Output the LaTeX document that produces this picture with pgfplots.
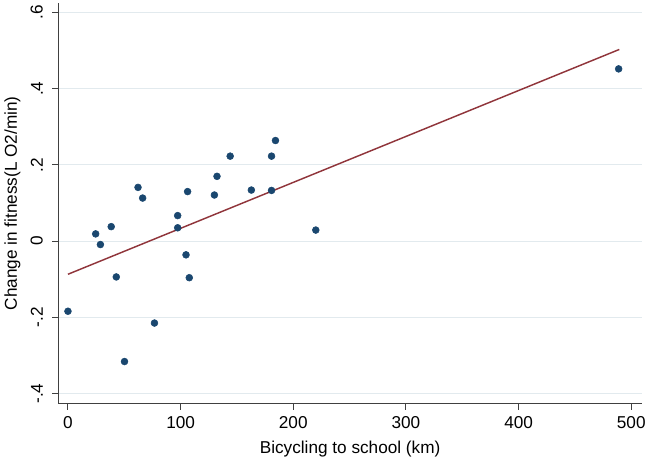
\documentclass[border=0pt]{standalone}
\usepackage{fontspec}
\setmainfont{Liberation Sans}
\usepackage{pgfplots}
\pgfplotsset{compat=1.18}
\definecolor{stnavy}{RGB}{26,71,111}
\definecolor{stmaroon}{RGB}{144,53,59}
\definecolor{gridc}{RGB}{226,234,238}
\begin{document}
\begin{tikzpicture}
\begin{axis}[
  scale only axis, width=441.75pt, height=303pt,
  xmin=-8.8, xmax=509.7, ymin=-0.4265, ymax=0.625,
  axis lines*=left,
  axis line style={draw=black!75, line width=0.8pt, -},
  xtick={0,100,...,500},
  ytick={-0.4,-0.2,0,0.2,0.4,0.6},
  yticklabels={-.4,-.2,0,.2,.4,.6},
  tick align=outside, major tick length=4.5pt,
  tick style={black!75, line width=0.8pt},
  ymajorgrids, grid style={gridc, line width=0.8pt},
  /pgf/number format/assume math mode=true,
  ticklabel style={font=\fontsize{13}{15}\selectfont},
  yticklabel style={rotate=90, anchor=south},
  yticklabel shift=3.5pt,
  xticklabel shift=1.5pt,
  xlabel={Bicycling to school (km)},
  ylabel={Change in fitness(L O2/min)},
  label style={font=\fontsize{13}{15}\selectfont},
  xlabel style={at={(axis description cs:0.5,-0.1139)}, anchor=center},
  ylabel style={at={(axis description cs:-0.0781,0.5)}, anchor=center},
]
\addplot[only marks, mark=*, mark size=2.6pt, draw=stnavy, fill=stnavy] coordinates {
(0,-0.184) (24.6,0.019) (28.8,-0.009) (38.4,0.038) (42.9,-0.094)
(50.2,-0.316) (62.2,0.141) (66.3,0.113) (76.8,-0.215) (97.4,0.067)
(97.4,0.035) (104.8,-0.036) (106.2,0.130) (107.7,-0.096) (130,0.121)
(132.3,0.170) (144,0.223) (162.8,0.134) (180.7,0.223) (180.7,0.133)
(184.2,0.264) (220,0.029) (488.8,0.452)
};
\addplot[stmaroon, line width=1.1pt] coordinates {(0,-0.087) (489.4,0.503)};
\coordinate (ll) at (rel axis cs:0,0);
\coordinate (ur) at (rel axis cs:1,1);
\end{axis}
\path (ll) ++(-42pt,-42pt) rectangle ([shift={(3.75pt,2.25pt)}]ur);
\end{tikzpicture}
\end{document}
